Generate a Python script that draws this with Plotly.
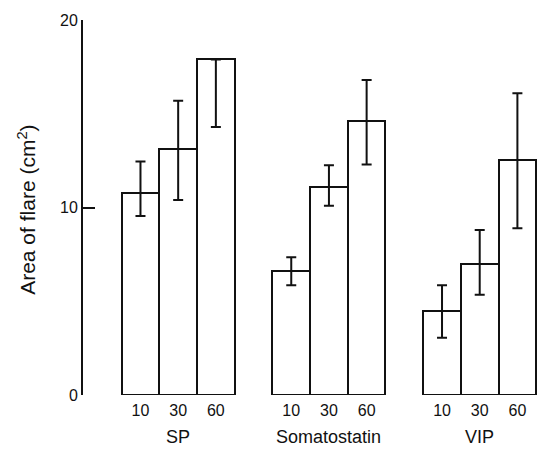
import plotly.graph_objects as go

groups = ["SP", "Somatostatin", "VIP"]
doses = ["10", "30", "60"]

sp_vals = [10.8, 13.1, 17.9]
sp_upper = [12.45, 15.7, 17.9]
sp_lower = [9.55, 10.4, 14.3]

som_vals = [6.6, 11.1, 14.6]
som_upper = [7.35, 12.25, 16.8]
som_lower = [5.85, 10.1, 12.3]

vip_vals = [4.5, 7.0, 12.55]
vip_upper = [5.85, 8.8, 16.1]
vip_lower = [3.05, 5.35, 8.9]

y_ticks = [0, 10, 20]

series = [
    (sp_vals, sp_upper, sp_lower),
    (som_vals, som_upper, som_lower),
    (vip_vals, vip_upper, vip_lower),
]

GROUP_STEP = 4  # bars per group slot (3 bars + 1 gap)

xs, ys, ep, em, tickvals, ticktext = [], [], [], [], [], []
for g, (vals, up, lo) in enumerate(series):
    for d, lab in enumerate(doses):
        x = g * GROUP_STEP + d
        xs.append(x)
        ys.append(vals[d])
        ep.append(up[d] - vals[d])
        em.append(vals[d] - lo[d])
        tickvals.append(x)
        ticktext.append(lab)

FONT = "Liberation Sans, Arial, sans-serif"
INK = "#111111"

fig = go.Figure()
fig.add_trace(go.Bar(
    x=xs, y=ys, width=1.0,
    marker=dict(color="white", line=dict(color=INK, width=2)),
    error_y=dict(type="data", symmetric=False, array=ep, arrayminus=em,
                 color=INK, thickness=2, width=5),
    showlegend=False,
))

annotations = []
for g, name in enumerate(groups):
    annotations.append(dict(
        x=g * GROUP_STEP + 1, y=-0.112, xref="x", yref="paper",
        text=name, showarrow=False, xanchor="center", yanchor="middle",
        font=dict(family=FONT, size=18, color=INK),
    ))
annotations.append(dict(
    x=-0.124, y=0.493, xref="paper", yref="paper",
    text="Area of flare (cm<sup>2</sup>)", textangle=-90,
    showarrow=False, xanchor="center", yanchor="middle",
    font=dict(family=FONT, size=21, color=INK),
))

fig.update_layout(
    width=537, height=452,
    margin=dict(l=83, r=0, t=20, b=57),
    paper_bgcolor="white", plot_bgcolor="white",
    font=dict(family=FONT, size=16, color=INK),
    bargap=0,
    annotations=annotations,
    xaxis=dict(range=[-1.525, 10.52], tickvals=tickvals, ticktext=ticktext,
               showgrid=False, zeroline=False, showline=False, ticks="",
               ticklabelstandoff=4,
               tickfont=dict(size=16, color=INK)),
    yaxis=dict(range=[0, 20], tickvals=y_ticks, showgrid=False,
               zeroline=False, showline=True, linecolor=INK, linewidth=2,
               ticks="inside", ticklen=12, tickwidth=2, tickcolor=INK,
               tickfont=dict(size=16, color=INK)),
)

fig.write_html(
    "out.html",
    config={"displayModeBar": False},
    post_script="document.body.style.margin='0';document.body.style.overflow='hidden';",
)
